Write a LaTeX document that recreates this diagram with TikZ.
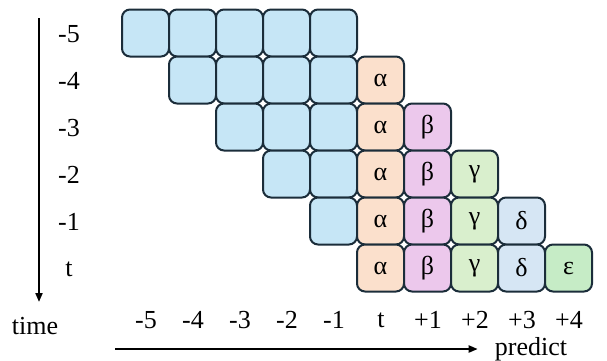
\documentclass[tikz,border=0pt]{standalone}
\usepackage{fontspec}
\setmainfont{Liberation Serif}
\usetikzlibrary{arrows.meta}
\definecolor{edgec}{HTML}{1B2D3A}
\definecolor{cblue}{HTML}{C6E6F6}
\definecolor{ca}{HTML}{FBE0CC}
\definecolor{cb}{HTML}{ECC8EC}
\definecolor{cg}{HTML}{D9EFCD}
\definecolor{cd}{HTML}{D6E6F4}
\definecolor{ce}{HTML}{C6ECC6}
\tikzset{
  cell/.style={draw=edgec, line width=2pt, rounded corners=8pt, minimum width=47pt,
    minimum height=47pt, inner sep=0pt, font=\rmfamily\fontsize{26}{26}\selectfont},
  lbl/.style={inner sep=0pt, font=\rmfamily\fontsize{26}{26}\selectfont},
  axis/.style={line width=2pt, -{Triangle[length=9pt,width=7pt]}}
}
\begin{document}
\begin{tikzpicture}[x=1pt,y=-1pt]
\useasboundingbox (0,0) rectangle (607,360);
% blue cells
\foreach \i in {0,...,4}{
  \foreach \j in {\i,...,4}{
    \node[cell, fill=cblue] (b-\i-\j) at ({145.5+47*\j},{33+47*\i}) {};
  }
}
% coloured cells
\foreach \i in {1,...,5}{
  \foreach \k/\col/\g in {0/ca/α,1/cb/β,2/cg/γ,3/cd/δ,4/ce/ε}{
    \ifnum\k<\i
      \node[cell, fill=\col] (p-\i-\k) at ({145.5+47*(5+\k)},{33+47*\i}) {\g};
    \fi
  }
}
% row labels
\foreach \t [count=\n from 0] in {-5,-4,-3,-2,-1,t}{
  \node[lbl] (r\n) at (69,{34+47*\n}) {\t};
}
% column labels
\foreach \t [count=\n from 0] in {-5,-4,-3,-2,-1,t,+1,+2,+3,+4}{
  \node[lbl] (c\n) at ({146+47*\n},320) {\t};
}
\node[lbl] (time) at (35,326) {time};
\node[lbl] (pred) at (531,349) {predict};
\coordinate (vt) at (39,18);
\coordinate (vb) at (39,302);
\coordinate (hl) at (115,349);
\coordinate (hr) at (pred.west);
\draw[axis] (vt) -- (vb);
\draw[axis] (hl) -- ([xshift=-17pt]hr |- hl);
\end{tikzpicture}
\end{document}
